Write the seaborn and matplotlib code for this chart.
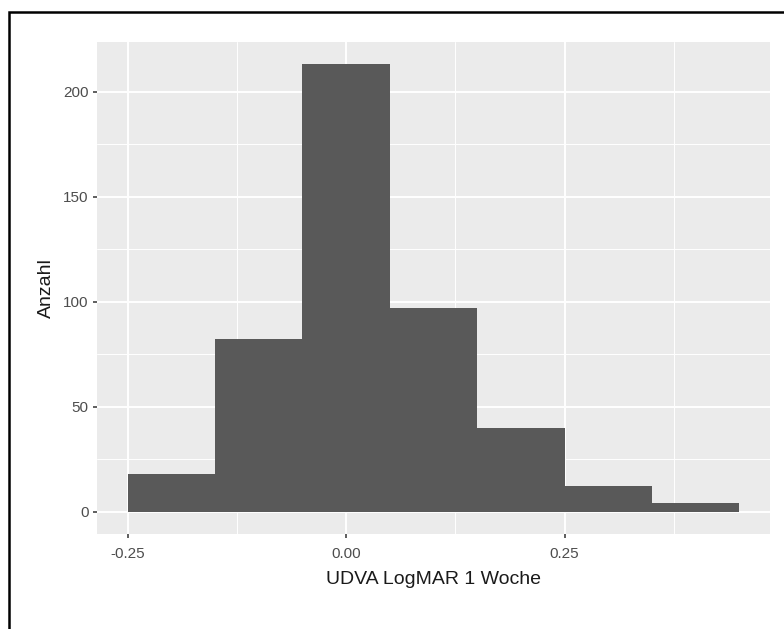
import numpy as np
import pandas as pd
import seaborn as sns
import matplotlib
matplotlib.use("Agg")
import matplotlib.pyplot as plt
from matplotlib.patches import Rectangle
from matplotlib.ticker import FixedLocator

# Data (bin width 0.1)
bin_centers = [-0.2, -0.1, 0.0, 0.1, 0.2, 0.3, 0.4]
counts = [18, 82, 213, 97, 40, 12, 4]
bin_edges = [-0.25, -0.15, -0.05, 0.05, 0.15, 0.25, 0.35, 0.45]
x_ticks = [-0.25, 0.0, 0.25]
x_tick_labels = ["-0.25", "0.00", "0.25"]
y_ticks = [0, 50, 100, 150, 200]
x_label = "UDVA LogMAR 1 Woche"
y_label = "Anzahl"

df = pd.DataFrame({"x": bin_centers, "n": counts})

sns.set_theme(style="white")
plt.rcParams["font.family"] = ["Liberation Sans", "DejaVu Sans"]

fig = plt.figure(figsize=(7.84, 6.29), dpi=100)
fig.patch.set_facecolor("white")
ax = fig.add_axes([97 / 784, 1 - 534 / 629, (770 - 97) / 784, (534 - 42) / 629])
ax.set_facecolor("#EBEBEB")

sns.histplot(data=df, x="x", weights="n", bins=bin_edges, ax=ax,
             color="#595959", alpha=1, linewidth=0, edgecolor="none", zorder=3)

# ggplot-style limits (5% expansion)
xr = bin_edges[-1] - bin_edges[0]
ax.set_xlim(bin_edges[0] - 0.05 * xr, bin_edges[-1] + 0.05 * xr)
ymax = max(counts)
ax.set_ylim(-0.05 * ymax, ymax * 1.05)

ax.xaxis.set_major_locator(FixedLocator(x_ticks))
ax.set_xticklabels(x_tick_labels)
ax.xaxis.set_minor_locator(FixedLocator([-0.125, 0.125, 0.375]))
ax.yaxis.set_major_locator(FixedLocator(y_ticks))
ax.yaxis.set_minor_locator(FixedLocator([25, 75, 125, 175]))

ax.grid(which="major", color="white", linewidth=1.4, zorder=1)
ax.grid(which="minor", color="white", linewidth=0.7, zorder=1)
ax.set_axisbelow(True)
for s in ax.spines.values():
    s.set_visible(False)

ax.tick_params(axis="both", which="major", length=3.2, width=1.1, color="#333333",
               labelsize=11, labelcolor="#4D4D4D", pad=3, direction="out",
               bottom=True, left=True)
ax.tick_params(axis="x", which="major", pad=6)
ax.tick_params(axis="both", which="minor", length=0)

ax.set_xlabel(x_label, fontsize=14, color="#1a1a1a", labelpad=7)
ax.set_ylabel(y_label, fontsize=14, color="#1a1a1a", labelpad=6)

# Black border around the figure (left and top visible)
fig.patches.append(Rectangle((9 / 784, -0.1), 1.2, 1.1 - 12 / 629,
                             transform=fig.transFigure, fill=False,
                             edgecolor="black", linewidth=1.8, zorder=10))

fig.savefig("out.png", dpi=100)
